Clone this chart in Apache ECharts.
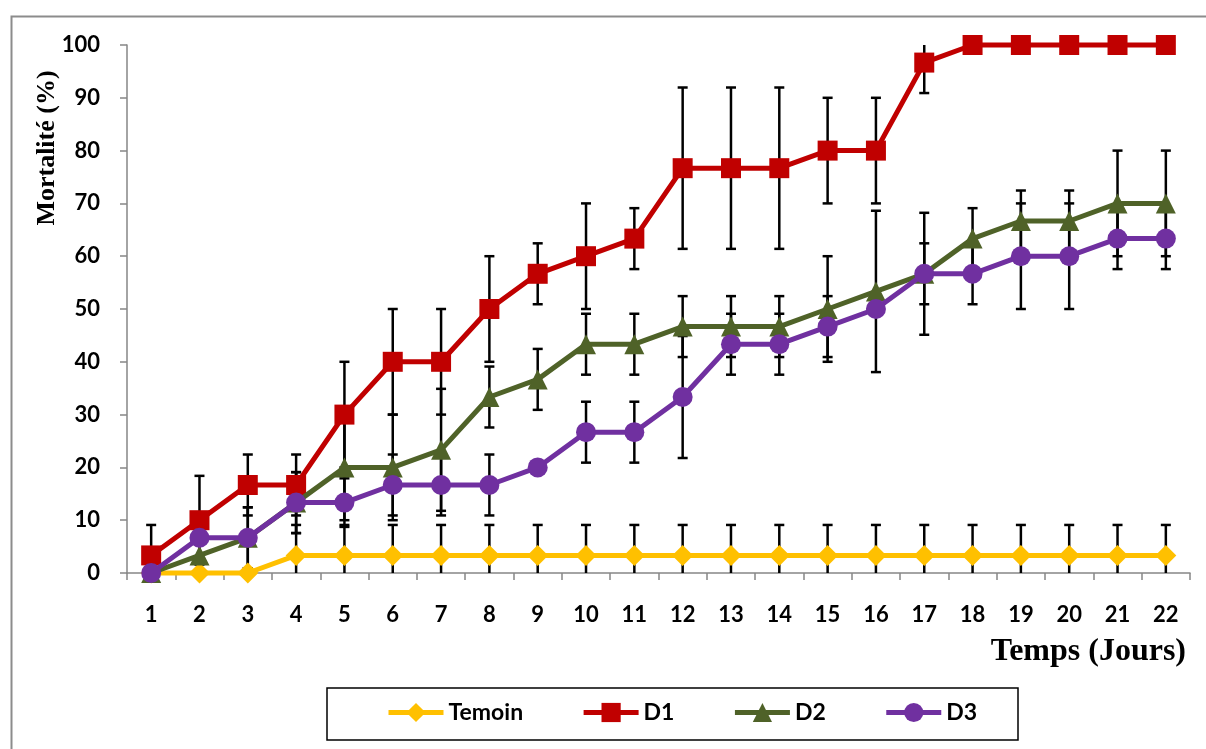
<!DOCTYPE html>
<html>
<head>
<meta charset="utf-8">
<script src="https://cdn.jsdelivr.net/npm/echarts@6/dist/echarts.min.js"></script>
<style>
html,body{margin:0;padding:0;background:#fff;}
#chart{width:1206px;height:749px;}
</style>
</head>
<body>
<div id="chart"></div>
<script>
// ---- data ----
const days = ['1','2','3','4','5','6','7','8','9','10','11','12','13','14','15','16','17','18','19','20','21','22'];
const seriesNames = ['Temoin','D1','D2','D3'];
const temoin = [0,0,0,3.33,3.33,3.33,3.33,3.33,3.33,3.33,3.33,3.33,3.33,3.33,3.33,3.33,3.33,3.33,3.33,3.33,3.33,3.33];
const d1 = [3.33,10,16.67,16.67,30,40,40,50,56.67,60,63.33,76.67,76.67,76.67,80,80,96.67,100,100,100,100,100];
const d2 = [0,3.33,6.67,13.33,20,20,23.33,33.33,36.67,43.33,43.33,46.67,46.67,46.67,50,53.33,56.67,63.33,66.67,66.67,70,70];
const d3 = [0,6.67,6.67,13.33,13.33,16.67,16.67,16.67,20,26.67,26.67,33.33,43.33,43.33,46.67,50,56.67,56.67,60,60,63.33,63.33];
// standard deviations (error bars)
const sdTemoin = [0,0,0,5.77,5.77,5.77,5.77,5.77,5.77,5.77,5.77,5.77,5.77,5.77,5.77,5.77,5.77,5.77,5.77,5.77,5.77,5.77];
const sdD1 = [5.77,8.4,5.77,5.77,10,10,10,10,5.77,10,5.77,15.28,15.28,15.28,10,10,5.77,0,0,0,0,0];
const sdD2 = [0,0,5.77,5.77,10,10,11.55,5.77,5.77,5.77,5.77,5.77,5.77,5.77,10,15.28,11.55,5.77,5.77,5.77,10,10];
const sdD3 = [0,0,5.77,5.77,4.6,5.77,5.77,5.77,0,5.77,5.77,11.55,5.77,5.77,5.77,0,5.77,5.77,10,10,5.77,5.77];
const yTicks = {min:0, max:100, interval:10};

const colors = ['#FFC000','#C00000','#4F6228','#7030A0'];
const symbols = ['diamond','rect','triangle','circle'];
const values = [temoin,d1,d2,d3];
const sds = [sdTemoin,sdD1,sdD2,sdD3];

function errData(vals, sd){
  const out = [];
  vals.forEach((v,i)=>{
    if (sd[i] > 0) out.push([i, v - sd[i], v + sd[i]]);
  });
  return out;
}

function renderErr(params, api){
  const x = api.value(0);
  const lo = api.value(1), hi = api.value(2);
  const loC = Math.max(lo, yTicks.min), hiC = Math.min(hi, yTicks.max);
  const pTop = api.coord([x, hiC]);
  const pBot = api.coord([x, loC]);
  const w = 5;
  const st = {stroke:'#000', lineWidth:2.5};
  const children = [
    {type:'line', shape:{x1:pTop[0], y1:pTop[1], x2:pBot[0], y2:pBot[1]}, style:st}
  ];
  if (hi <= yTicks.max) children.push({type:'line', shape:{x1:pTop[0]-w, y1:pTop[1], x2:pTop[0]+w, y2:pTop[1]}, style:st});
  if (lo >= yTicks.min) children.push({type:'line', shape:{x1:pBot[0]-w, y1:pBot[1], x2:pBot[0]+w, y2:pBot[1]}, style:st});
  return {type:'group', children};
}

const series = [];
seriesNames.forEach((n,k)=>{
  series.push({
    name: n + ' err', type:'custom', renderItem: renderErr,
    data: errData(values[k], sds[k]), encode:{x:0, y:[1,2]},
    z: 1, silent:true, clip:false
  });
});
seriesNames.forEach((n,k)=>{
  series.push({
    name: n, type:'line', data: values[k],
    symbol: symbols[k], symbolSize: k===0 ? 21 : 20, showAllSymbol:true,
    lineStyle:{color:colors[k], width:5},
    itemStyle:{color:colors[k]},
    z: 3 + k, clip:false
  });
});

const chart = echarts.init(document.getElementById('chart'), null, {renderer:'canvas'});
const axisColor = '#868686';
chart.setOption({
  animation:false,
  backgroundColor:'#fff',
  grid:{left:127, right:16, top:45, bottom:176, containLabel:false},
  xAxis:{
    type:'category', data: days, boundaryGap:true,
    axisLine:{show:true, lineStyle:{color:axisColor, width:1.5}},
    axisTick:{show:true, length:7, inside:false, lineStyle:{color:axisColor, width:1.5}},
    axisLabel:{color:'#000', fontFamily:'Lato', fontWeight:'bold', fontSize:22, margin:31, interval:0},
    splitLine:{show:false}
  },
  yAxis:{
    type:'value', min:yTicks.min, max:yTicks.max, interval:yTicks.interval,
    axisLine:{show:true, lineStyle:{color:axisColor, width:1.5}},
    axisTick:{show:true, length:7, lineStyle:{color:axisColor, width:1.5}},
    axisLabel:{color:'#000', fontFamily:'Lato', fontWeight:'bold', fontSize:22, margin:27},
    splitLine:{show:false}
  },
  legend:{
    data: seriesNames, left:386, top:701, padding:0,
    itemWidth:55, itemHeight:24, itemGap:58,
    lineStyle:{width:5},
    textStyle:{color:'#000', fontFamily:'Lato', fontWeight:'bold', fontSize:23}
  },
  graphic:[
    {type:'rect', left:9, top:14, shape:{width:1300, height:800}, style:{fill:'none', stroke:'#8c8c8c', lineWidth:2}, silent:true, z:-1},
    {type:'rect', shape:{x:327, y:688, width:691, height:52}, style:{fill:'none', stroke:'#000', lineWidth:1.5}, silent:true},
    {type:'text', x:47, y:148, rotation:Math.PI/2,
      style:{text:'Mortalité (%)', fill:'#000', font:'bold 26px "Liberation Serif"', textAlign:'center', textVerticalAlign:'middle'}},
    {type:'text', x:1186, y:652,
      style:{text:'Temps (Jours)', fill:'#000', font:'bold 32px "Liberation Serif"', textAlign:'right', textVerticalAlign:'middle'}}
  ],
  series
});
</script>
</body>
</html>
